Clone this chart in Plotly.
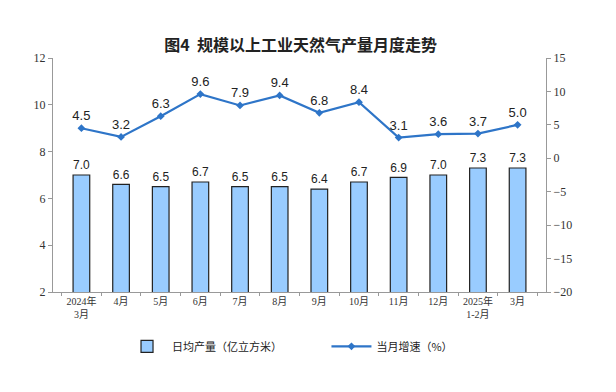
import plotly.graph_objects as go

categories = ["2024年<br>3月", "4月", "5月", "6月", "7月", "8月", "9月", "10月", "11月", "12月", "2025年<br>1-2月", "3月"]
daily_output = [7.0, 6.6, 6.5, 6.7, 6.5, 6.5, 6.4, 6.7, 6.9, 7.0, 7.3, 7.3]
growth = [4.5, 3.2, 6.3, 9.6, 7.9, 9.4, 6.8, 8.4, 3.1, 3.6, 3.7, 5.0]
left_ticks = [2, 4, 6, 8, 10, 12]
right_ticks = [15, 10, 5, 0, -5, -10, -15, -20]

fig = go.Figure()
fig.add_trace(go.Bar(
    x=categories, y=daily_output, name="日均产量（亿立方米）" + "\u00a0" * 16,
    marker=dict(color="#99CCFF", line=dict(color="#222222", width=1.2)),
    text=[f"{v:.1f}" for v in daily_output], textposition="outside",
    textfont=dict(family="Liberation Sans, Arial", size=13, color="#222"),
    cliponaxis=False,
))
fig.add_trace(go.Scatter(
    x=categories, y=growth, name="当月增速（%）", yaxis="y2",
    mode="lines+markers+text",
    line=dict(color="#2E75C8", width=2.2),
    marker=dict(symbol="diamond", size=6, color="#2E75C8"),
    text=[f"{v:.1f}" for v in growth], textposition="top center",
    textfont=dict(family="Liberation Sans, Arial", size=13, color="#222"),
    cliponaxis=False,
))

fig.update_layout(
    width=616, height=392,
    margin=dict(l=45, r=78, t=50, b=108, autoexpand=False),
    paper_bgcolor="white", plot_bgcolor="white",
    title=dict(text="<b>图4  规模以上工业天然气产量月度走势</b>", x=0.475, xanchor="center",
               y=0.905, yanchor="middle",
               font=dict(family="Noto Sans CJK SC", size=16, color="#222")),
    bargap=0.58,
    showlegend=True,
    legend=dict(orientation="h", x=0.14, xanchor="left", y=-0.17, yanchor="top",
                font=dict(family="Noto Sans CJK SC", size=11, color="#222"),
                itemwidth=40, tracegroupgap=0),
    xaxis=dict(type="category", showline=True, linecolor="#999", linewidth=1,
               ticks="outside", tickson="boundaries", ticklen=3, tickcolor="#999",
               tickangle=0, automargin=False,
               tickfont=dict(family="Liberation Serif, Noto Sans CJK SC", size=10, color="#333"),
               showgrid=False),
    yaxis=dict(range=[2, 12], tickvals=left_ticks, showline=True, linecolor="#999",
               ticks="outside", ticklen=4, tickcolor="#999", showgrid=False, zeroline=False,
               automargin=False,
               tickfont=dict(family="Liberation Serif", size=12, color="#333")),
    yaxis2=dict(range=[-20, 15], tickvals=right_ticks, overlaying="y", side="right",
                showline=True, linecolor="#999", ticks="outside", ticklen=4, tickcolor="#999",
                showgrid=False, zeroline=False, automargin=False,
                tickfont=dict(family="Liberation Serif", size=12, color="#333")),
)

fig.write_html("out.html")
